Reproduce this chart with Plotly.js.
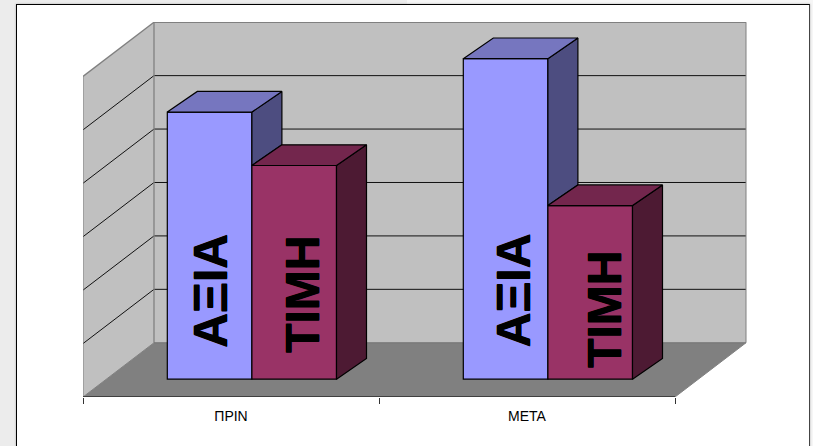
<!DOCTYPE html>
<html>
<head>
<meta charset="utf-8">
<script src="https://cdn.plot.ly/plotly-3.0.1.min.js"></script>
<style>
html,body{margin:0;padding:0;width:813px;height:446px;overflow:hidden;background:linear-gradient(90deg,#ececec 0,#ececec 50%,#f6f6f6 50%,#f6f6f6 100%);}
#frame{position:absolute;left:16px;top:4px;width:792px;height:460px;background:#fff;border:1.5px solid #000;border-right-color:#444;box-shadow:0 0 2px #aaa;}
#chart{position:absolute;left:0;top:0;width:813px;height:446px;}
</style>
</head>
<body>
<div id="frame"></div>
<div id="chart"></div>
<script>
// ---- data ----
const categories = ['ΠΡΙΝ', 'ΜΕΤΑ'];
const seriesNames = ['ΑΞΙΑ', 'ΤΙΜΗ'];
const axiaValues = [5, 6];
const timiValues = [4, 3.25];
const gridValues = [1, 2, 3, 4, 5];
const categoryEdges = [0, 1, 2];

// ---- geometry of the oblique projection, in axis units ----
const pxX = 296, pxY = 53.5;          // pixels per axis unit
const wallDX = 71 / pxX, wallDY = 54.3 / pxY, wallTop = 6;
const barBase = 17.8 / pxY, barW = 84.6 / pxX, barStart = 84.3 / pxX;
const barDX = 30 / pxX, barDY = 20.7 / pxY;
const labelOffsetX = [[1.4, 8], [8, 14]];   // px offset of bar label from bar centre
const labelY = [[290, 294], [290, 309]];    // px height of bar label

// ---- style ----
const palette = [
  {front:'#9999ff', top:'#7676bf', side:'#4d4d80'},
  {front:'#993366', top:'#73264d', side:'#4d1a33'}
];
const wall = '#c0c0c0', floor = '#808080', edge = '#808080', ink = '#000000';

const poly = pts => 'M' + pts.map(p => p[0] + ',' + p[1]).join('L') + 'Z';
const fillShape = (pts, fill) => ({type:'path', layer:'below', xref:'x', yref:'y', path:poly(pts), fillcolor:fill, line:{width:0}});
const lineShape = (x0, y0, x1, y1, color, w) => ({type:'line', layer:'below', xref:'x', yref:'y', x0, y0, x1, y1, line:{color, width:w}});

const xEnd = categoryEdges[categoryEdges.length - 1];
const shapes = [
  fillShape([[0,0],[wallDX,wallDY],[wallDX,wallDY+wallTop],[0,wallTop]], wall),
  fillShape([[wallDX,wallDY],[xEnd+wallDX,wallDY],[xEnd+wallDX,wallDY+wallTop],[wallDX,wallDY+wallTop]], wall),
  fillShape([[0,0],[xEnd,0],[xEnd+wallDX,wallDY],[wallDX,wallDY]], floor)
];
gridValues.forEach(v => {
  shapes.push(lineShape(0, v, wallDX, v + wallDY, '#111', 1));
  shapes.push(lineShape(wallDX, v + wallDY, xEnd + wallDX, v + wallDY, '#111', 1));
});
shapes.push(
  lineShape(0, 0, 0, wallTop, edge, 1),
  lineShape(0, wallTop, wallDX, wallTop + wallDY, edge, 1.3),
  lineShape(wallDX, wallTop + wallDY, xEnd + wallDX, wallTop + wallDY, edge, 1.6),
  lineShape(wallDX, wallDY, wallDX, wallTop + wallDY, edge, 1.3),
  lineShape(xEnd + wallDX, wallDY, xEnd + wallDX, wallTop + wallDY, edge, 1),
  lineShape(0, 0, wallDX, wallDY, edge, 1),
  lineShape(wallDX, wallDY, xEnd + wallDX, wallDY, '#707070', 1),
  lineShape(xEnd, 0, xEnd + wallDX, wallDY, edge, 1),
  lineShape(0, 0, xEnd, 0, ink, 1.2)
);

const traces = [], faces = [], annotations = [];
categories.forEach((cat, c) => {
  const vals = [axiaValues[c], timiValues[c]];
  vals.forEach((v, s) => {
    const left = c + barStart + s * barW, right = left + barW;
    const top = barBase + v;
    traces.push({
      type:'bar', x:[left + barW / 2], y:[v], base:[barBase], width:[barW],
      marker:{color:palette[s].front, line:{color:ink, width:1.2}},
      hoverinfo:'skip', showlegend:false
    });
    // side face stops where the neighbouring bar's front begins to hide it
    const next = vals[s + 1];
    const sideLow = (next !== undefined && next < v) ? barBase + next : barBase;
    faces.push({
      type:'scatter', mode:'lines', fill:'toself', fillcolor:palette[s].side,
      x:[right, right + barDX, right + barDX, right, right],
      y:[top, top + barDY, sideLow + barDY, sideLow, top],
      line:{color:ink, width:1.2}, hoverinfo:'skip', showlegend:false
    });
    faces.push({
      type:'scatter', mode:'lines', fill:'toself', fillcolor:palette[s].top,
      x:[left, left + barDX, right + barDX, right, left],
      y:[top, top + barDY, top + barDY, top, top],
      line:{color:ink, width:1.2}, hoverinfo:'skip', showlegend:false
    });
    annotations.push({
      xref:'x', yref:'y', showarrow:false, textangle:-90,
      x:left + barW / 2 + labelOffsetX[c][s] / pxX,
      y:(396.5 - labelY[c][s]) / pxY,
      text:seriesNames[s],
      font:{family:'Liberation Sans, Arial, sans-serif', size:48, weight:700, color:'#000',
            shadow:'0.5px 0 0 #000, -0.5px 0 0 #000'}
    });
  });
});

const layout = {
  width:813, height:446,
  margin:{l:83, r:66, t:22, b:48.5, pad:0},
  paper_bgcolor:'rgba(0,0,0,0)', plot_bgcolor:'rgba(0,0,0,0)',
  barmode:'overlay', showlegend:false, hovermode:false,
  xaxis:{
    range:[0, 664 / pxX], fixedrange:true, showgrid:false, zeroline:false, showline:false,
    tickmode:'array', tickvals:categories.map((_, i) => i + 0.5), ticktext:categories,
    ticks:'', ticklen:0, ticklabelstandoff:9,
    tickfont:{family:'Liberation Sans, Arial, sans-serif', size:14, color:'#000'},
    minor:{tickmode:'array', tickvals:categoryEdges, ticks:'outside', ticklen:6, tickwidth:1, tickcolor:'#333', showgrid:false}
  },
  yaxis:{
    range:[0, 375.5 / pxY], fixedrange:true, showgrid:false, zeroline:false, showline:false,
    showticklabels:false, ticks:''
  },
  shapes, annotations
};
Plotly.newPlot('chart', traces.concat(faces), layout, {displayModeBar:false, staticPlot:true});
</script>
</body>
</html>
